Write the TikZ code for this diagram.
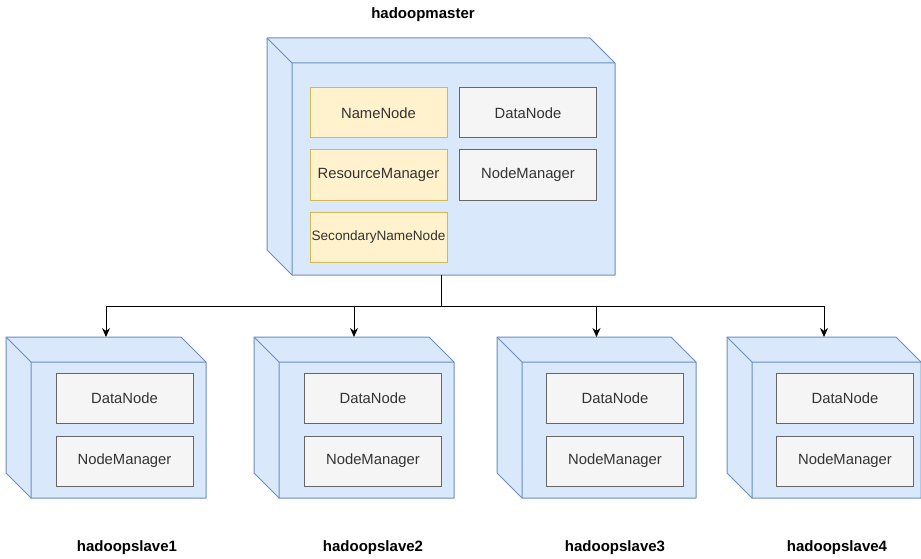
\documentclass[tikz,border=0pt]{standalone}
\usepackage{fontspec}
\setmainfont{Liberation Sans}
\usetikzlibrary{calc,arrows.meta}
\definecolor{cubefill}{HTML}{DAE8FC}
\definecolor{cubeline}{HTML}{6C8EBF}
\definecolor{yfill}{HTML}{FFF2CC}
\definecolor{yline}{HTML}{D6B656}
\definecolor{gfill}{HTML}{F5F5F5}
\definecolor{gline}{HTML}{666666}
\definecolor{gtext}{HTML}{333333}
\newcommand{\drawcube}[1]{%
  \filldraw[fill=cubefill,draw=cubeline,line width=1pt,line join=round]
    (#1.north west) -- ($(#1.north east)+(-25,0)$) -- ($(#1.north east)+(0,25)$)
    -- (#1.south east) -- ($(#1.south west)+(25,0)$) -- ($(#1.south west)+(0,-25)$) -- cycle;
  \draw[draw=cubeline,line width=1pt,line join=round]
    (#1.north west) -- ($(#1.north west)+(25,25)$) -- ($(#1.north east)+(0,25)$)
    ($(#1.north west)+(25,25)$) -- ($(#1.south west)+(25,0)$);
}
\begin{document}
\begin{tikzpicture}[x=1pt,y=-1pt,
  cubebox/.style={draw=none,inner sep=0pt,outer sep=0pt,minimum width=#1,minimum height=161pt},
  ybox/.style={draw=yline,fill=yfill,line width=1pt,text=gtext,inner sep=0pt,outer sep=0pt,
    minimum width=137pt,minimum height=50pt,font=\fontsize{14.8}{17}\selectfont},
  gbox/.style={draw=gline,fill=gfill,line width=1pt,text=gtext,inner sep=0pt,outer sep=0pt,
    minimum width=137pt,minimum height=50pt,font=\fontsize{14.8}{17}\selectfont},
  lbl/.style={font=\fontsize{15}{18}\selectfont\bfseries,text=black,inner sep=0pt},
  arr/.style={draw=black,line width=1pt,-{Stealth[length=9pt,width=8pt]}}]
\useasboundingbox (0,0) rectangle (921,559);
% cube bodies
\node[cubebox=348pt,minimum height=237pt] (master) at (441,156.5) {};
\node[cubebox=200pt] (s1) at (106,417.5) {};
\node[cubebox=200pt] (s2) at (354,417.5) {};
\node[cubebox=199pt] (s3) at (596.5,417.5) {};
\node[cubebox=194pt] (s4) at (824,417.5) {};
\drawcube{master}
\drawcube{s1}
\drawcube{s2}
\drawcube{s3}
\drawcube{s4}
% master content
\node[ybox] (nn) at (378.5,113) {NameNode};
\node[ybox] (rm) at (378.5,175) {ResourceManager};
\node[ybox,font=\fontsize{13.6}{16}\selectfont] (snn) at (378.5,237) {SecondaryNameNode};
\node[gbox] (mdn) at (528,113) {DataNode};
\node[gbox] (mnm) at (528,175) {NodeManager};
% slaves content
\node[gbox] (s1dn) at (124.5,398.5) {DataNode};
\node[gbox] (s1nm) at (124.5,461) {NodeManager};
\node[gbox] (s2dn) at (373,398.5) {DataNode};
\node[gbox] (s2nm) at (373,461) {NodeManager};
\node[gbox] (s3dn) at (615,398.5) {DataNode};
\node[gbox] (s3nm) at (615,461) {NodeManager};
\node[gbox] (s4dn) at (845,398.5) {DataNode};
\node[gbox] (s4nm) at (845,461) {NodeManager};
% labels
\node[lbl] (lm) at (423,15) {hadoopmaster};
\node[lbl] (l1) at (127,548) {hadoopslave1};
\node[lbl] (l2) at (373,548) {hadoopslave2};
\node[lbl] (l3) at (615,548) {hadoopslave3};
\node[lbl] (l4) at (837,548) {hadoopslave4};
% connectors
\coordinate (bus) at (441,306);
\draw[arr] (master.south) -- (master.south |- bus) -| (s1.north);
\draw[arr] (master.south) -- (master.south |- bus) -| (s2.north);
\draw[arr] (master.south) -- (master.south |- bus) -| (s3.north);
\draw[arr] (master.south) -- (master.south |- bus) -| (s4.north);
\end{tikzpicture}
\end{document}
